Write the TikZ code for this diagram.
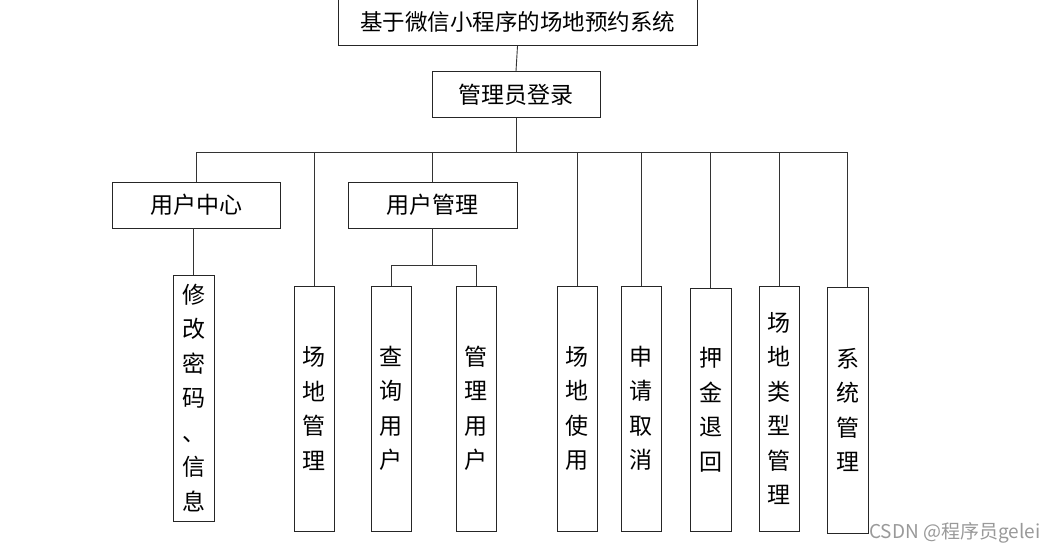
\documentclass[tikz,border=0pt]{standalone}
\usepackage{fontspec}
\newfontfamily\cjk{Noto Sans CJK SC}
\begin{document}
\begin{tikzpicture}[x=1pt,y=-1pt,
  box/.style={draw=black!85, line width=0.9pt, inner sep=0pt, align=center,
    font=\cjk\fontsize{23}{34.5}\selectfont},
  hbox/.style={box, minimum width=168pt, minimum height=46pt},
  vbox/.style={box, minimum width=40pt, minimum height=245pt},
  link/.style={draw=black!80, line width=0.9pt}]
\useasboundingbox (0,0) rectangle (1057,553);
\node[box, minimum width=359pt, minimum height=47pt, font=\cjk\fontsize{22.5}{30}\selectfont] (title) at (517.5,22) {基于微信小程序的场地预约系统};
\node[hbox] (login) at (516,94.5) {管理员登录};
\node[hbox] (ucenter) at (196,205) {用户中心};
\node[hbox, minimum width=169pt] (umanage) at (432.5,205) {用户管理};
\node[vbox, minimum width=41pt, minimum height=246pt] (xiugai) at (193.5,398) {修\\改\\密\\码\\、\\信\\息};
\node[vbox] (cdgl) at (314,408.5) {场\\地\\管\\理};
\node[vbox] (cxyh) at (391,408.5) {查\\询\\用\\户};
\node[vbox] (glyh) at (476,408.5) {管\\理\\用\\户};
\node[vbox] (cdsy) at (577,408.5) {场\\地\\使\\用};
\node[vbox] (sqqx) at (641,408.5) {申\\请\\取\\消};
\node[vbox, minimum width=41pt, minimum height=243pt] (yjth) at (710.5,409.5) {押\\金\\退\\回};
\node[vbox] (cdlx) at (779,408.5) {场\\地\\类\\型\\管\\理};
\node[vbox, minimum width=41pt, minimum height=246pt] (xtgl) at (847.5,410) {系\\统\\管\\理};
\node[anchor=west, inner sep=0pt, text=black!40, font=\cjk\fontsize{19}{22}\selectfont] (mark) at (869,533) {CSDN @程序员gelei};
\coordinate (bus) at (516,152);
\coordinate (ub) at (432.5,265);
\draw[link] (title.south) -- (login.north);
\draw[link] (login.south) -- (bus);
\draw[link] (ucenter.north) |- (bus);
\draw[link] (xtgl.north) |- (bus);
\foreach \n in {cdgl,umanage,cdsy,sqqx,yjth,cdlx}
  \draw[link] (\n.north) -- (\n.north |- bus);
\draw[link] (xiugai.north) -- (xiugai.north |- ucenter.south);
\draw[link] (umanage.south) -- (ub);
\draw[link] (cxyh.north) |- (ub);
\draw[link] (glyh.north) |- (ub);
\end{tikzpicture}
\end{document}
